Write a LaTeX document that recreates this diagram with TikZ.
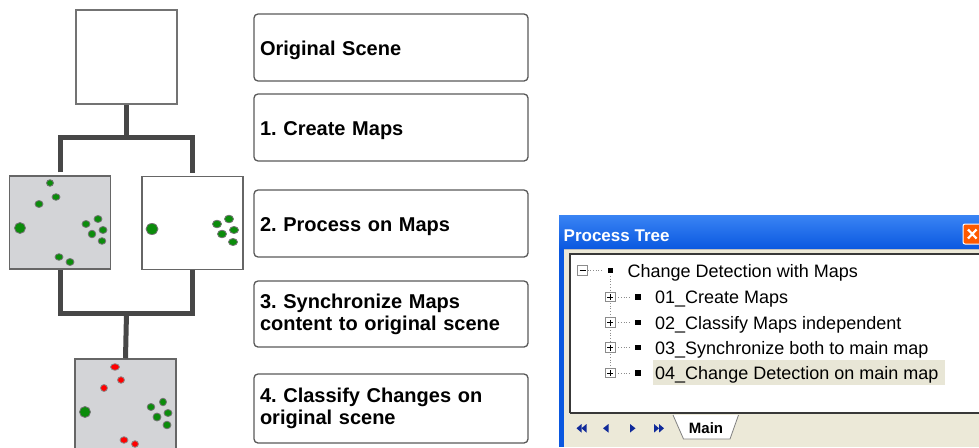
\documentclass[tikz,border=0pt]{standalone}
\usepackage{fontspec}
\setmainfont{Liberation Sans}
\frenchspacing
\definecolor{dotgreen}{HTML}{0B8C0B}
\definecolor{dotred}{HTML}{FF0000}
\definecolor{mapgray}{HTML}{D3D4D7}
\definecolor{conncol}{HTML}{474747}
\definecolor{xpbeige}{HTML}{ECE9D8}
\definecolor{xpblue}{HTML}{0A58E0}
\definecolor{xplight}{HTML}{3A84F4}
\definecolor{navblue}{HTML}{102A9A}
\definecolor{hilite}{HTML}{E8E6D6}
\begin{document}
\begin{tikzpicture}[x=1pt,y=-1pt,
  conn/.style={draw=conncol, line width=5pt},
  mapbox/.style={draw=black!60, line width=1.5pt, inner sep=0pt, minimum width=101pt, minimum height=93pt},
  tbox/.style={draw=black!65, line width=1.3pt, rounded corners=4pt, minimum width=274pt, minimum height=67pt,
     text width=262pt, align=left, inner sep=0pt, font=\fontsize{20}{22}\selectfont\bfseries},
  oneline/.style={text height=16pt, text depth=0pt},
  gdot/.style={fill=dotgreen, draw=black!55, line width=0.8pt},
  rdot/.style={fill=dotred, draw=black!45, line width=0.8pt},
  titem/.style={anchor=base west, inner sep=0pt, font=\fontsize{18}{20}\selectfont},
  pbox/.style={draw=black!45, fill=white, line width=0.7pt, minimum size=9.5pt, inner sep=0pt},
  bullet/.style={fill=black, minimum size=5.5pt, inner sep=0pt},
  tdots/.style={draw=black!45, line width=0.7pt, dotted},
  navarrow/.style={fill=navblue}
]
\useasboundingbox (0,0) rectangle (979,447);

% ---------- left diagram ----------
\node[mapbox, fill=white, line width=2pt, draw=black!55, minimum height=94pt] (orig) at (126.5,57) {};
\node[mapbox, fill=mapgray] (mapA) at (60,222.5) {};
\node[mapbox, fill=white] (mapB) at (192.5,223) {};
\node[mapbox, fill=mapgray, minimum height=94pt] (res) at (125.5,406) {};

\coordinate (j1) at (126.5,137);
\coordinate (j2) at (126.5,313);
\draw[conn] (orig.south) -- (j1);
\draw[conn, shorten <=3pt, shorten >=3pt] (mapA.north) |- (j1) -| (mapB.north);
\draw[conn] (mapA.south) |- (j2) -| (mapB.south);
\draw[conn] (j2) -- (res.north);

% dots map A
\path[gdot] (50,183) ellipse [x radius=3.5, y radius=3.3];
\path[gdot] (56,197) ellipse [x radius=4, y radius=3.3];
\path[gdot] (39,204) ellipse [x radius=4, y radius=3.5];
\path[gdot] (20,228) ellipse [x radius=5.5, y radius=5.5];
\path[gdot] (86,224) ellipse [x radius=4, y radius=3.5];
\path[gdot] (98,219) ellipse [x radius=4, y radius=3.5];
\path[gdot] (92,234) ellipse [x radius=3.8, y radius=3.8];
\path[gdot] (103,230) ellipse [x radius=4, y radius=3.5];
\path[gdot] (102,241) ellipse [x radius=3.8, y radius=3.3];
\path[gdot] (59,257) ellipse [x radius=4, y radius=3.3];
\path[gdot] (70,262) ellipse [x radius=4, y radius=3.5];
% dots map B
\path[gdot] (152,229) ellipse [x radius=6, y radius=5.5];
\path[gdot] (217,224) ellipse [x radius=4.5, y radius=3.8];
\path[gdot] (229,219) ellipse [x radius=4.5, y radius=3.8];
\path[gdot] (222,234) ellipse [x radius=4.5, y radius=3.8];
\path[gdot] (234,230) ellipse [x radius=4.5, y radius=3.5];
\path[gdot] (233,242) ellipse [x radius=4.5, y radius=3.5];
% dots result
\path[rdot] (115,367) ellipse [x radius=4.5, y radius=3.3];
\path[rdot] (121,380) ellipse [x radius=3.5, y radius=3.3];
\path[rdot] (104,388) ellipse [x radius=3.5, y radius=3.5];
\path[gdot] (85,412) ellipse [x radius=5.5, y radius=5.5];
\path[gdot] (151,407) ellipse [x radius=3.8, y radius=3.5];
\path[gdot] (163,402) ellipse [x radius=3.5, y radius=3.8];
\path[gdot] (157,417) ellipse [x radius=4, y radius=4];
\path[gdot] (168,413) ellipse [x radius=4, y radius=3.5];
\path[gdot] (167,425) ellipse [x radius=4, y radius=3.8];
\path[rdot] (124,440) ellipse [x radius=4, y radius=3.3];
\path[rdot] (135,444) ellipse [x radius=3.5, y radius=3.3];

% ---------- text boxes ----------
\node[tbox, oneline] (b0) at (391,47.5) {Original Scene};
\node[tbox, oneline] (b1) at (391,127.5) {1. Create Maps};
\node[tbox, oneline] (b2) at (391,223.5) {2. Process on Maps};
\node[tbox, minimum height=66pt] (b3) at (391,314) {3. Synchronize Maps\\content to original scene};
\node[tbox, minimum height=69pt] (b4) at (391,408.5) {4. Classify Changes on\\original scene};

% ---------- Process Tree window ----------
\fill[top color=xplight, bottom color=xpblue] (559,215) rectangle (979,249);
\fill[xpblue] (559,249) rectangle (563.5,447);
\fill[xpbeige] (563.5,249) rectangle (979,447);
\draw[black!25, line width=0.8pt] (563.5,249.5) -- (979,249.5);
\fill[white] (570,254) rectangle (985,413);
\draw[black!78, line width=1.5pt] (570,413) -- (570,254) -- (985,254);
\draw[black!78, line width=1.5pt] (570,413) -- (985,413);
\fill[hilite] (653,360) rectangle (945,385);

\node[anchor=base west, inner sep=0pt, text=white, font=\fontsize{17}{20}\selectfont\bfseries] (title) at (563.5,241.5) {Process Tree};

% close button
\node[draw=white, line width=1pt, fill=orange!70!red, rounded corners=2pt, minimum width=22pt, minimum height=20pt, inner sep=0pt] (close) at (974,234) {};
\draw[white, line width=2.2pt] (968,229.5) -- (976.5,238.5) (968,238.5) -- (976.5,229.5);

% tree
\node[pbox] (m0) at (582.5,270.5) {};
\draw[black, line width=1pt] (579.5,270.5) -- (585.5,270.5);
\node[bullet] (d0) at (610.5,270.5) {};
\node[titem] (t0) at (627.5,277) {Change Detection with Maps};
\draw[tdots] (m0.east) -- (603,270.5);
\draw[tdots] (610.3,276) -- (610.3,368);

\foreach \i/\yy/\lab in {1/297/01\_Create Maps, 2/322.5/02\_Classify Maps independent, 3/347.5/03\_Synchronize both to main map, 4/373/04\_Change Detection on main map}{
  \node[pbox] (p\i) at (610.3,\yy) {};
  \draw[black, line width=1pt] (607.3,\yy) -- (613.3,\yy) (610.3,\yy-3) -- (610.3,\yy+3);
  \draw[tdots] (p\i.east) -- (631,\yy);
  \node[bullet] (d\i) at (638,\yy) {};
  \node[titem] (t\i) at (655,\yy+6.5) {\lab};
}

% tab bar
\path[fill=white, draw=black!50, line width=0.8pt] (673,415) -- (683.5,439) -- (730,439) -- (738.5,415);
\node[inner sep=0pt, font=\fontsize{15}{17}\selectfont\bfseries] (tab) at (706,428) {Main};
% nav arrows
\fill[navarrow] (576.5,428.3) -- (581.5,424) -- (581.5,432.6) -- cycle;
\fill[navarrow] (581.5,428.3) -- (586.5,424) -- (586.5,432.6) -- cycle;
\fill[navarrow] (603,428.3) -- (608.5,424) -- (608.5,432.6) -- cycle;
\fill[navarrow] (635.5,428.3) -- (630,424) -- (630,432.6) -- cycle;
\fill[navarrow] (659,428.3) -- (654,424) -- (654,432.6) -- cycle;
\fill[navarrow] (664,428.3) -- (659,424) -- (659,432.6) -- cycle;
\end{tikzpicture}
\end{document}
